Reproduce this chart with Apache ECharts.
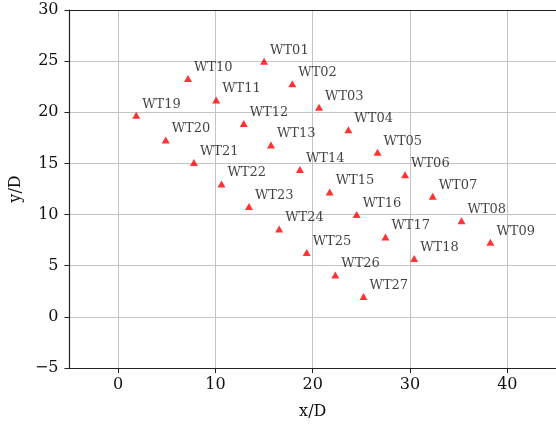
<!DOCTYPE html>
<html><head><meta charset="utf-8">
<script src="https://cdn.jsdelivr.net/npm/echarts@6/dist/echarts.min.js"></script>
<style>html,body{margin:0;padding:0;background:#fff}#c{width:556px;height:425px}</style>
</head><body><div id="c"></div>
<script>
const turbineNames = ['WT01','WT02','WT03','WT04','WT05','WT06','WT07','WT08','WT09',
  'WT10','WT11','WT12','WT13','WT14','WT15','WT16','WT17','WT18',
  'WT19','WT20','WT21','WT22','WT23','WT24','WT25','WT26','WT27'];
const xValues = [15.0,17.9,20.65,23.66,26.66,29.49,32.33,35.29,38.26,
  7.18,10.08,12.91,15.71,18.68,21.74,24.51,27.47,30.43,
  1.86,4.89,7.79,10.62,13.45,16.55,19.38,22.32,25.22];
const yValues = [25.0,22.8,20.5,18.3,16.1,13.9,11.8,9.4,7.3,
  23.3,21.2,18.9,16.8,14.4,12.2,10.0,7.8,5.7,
  19.7,17.3,15.1,13.0,10.8,8.6,6.3,4.1,2.0];
const xTicks = [0,10,20,30,40];
const yTicks = [-5,0,5,10,15,20,25,30];

const FONT = 'DejaVu Serif';
const TXT = '#111';
const fmt = v => String(v).replace('-','\u2212');
const points = turbineNames.map((n,i)=>({name:n, value:[xValues[i], yValues[i]]}));
const chart = echarts.init(document.getElementById('c'), null, {renderer:'canvas'});
chart.setOption({
  animation:false,
  backgroundColor:'#fff',
  grid:{left:69, right:-7, top:10, bottom:54, containLabel:false},
  xAxis:[{
    type:'value', min:-5, max:45, position:'bottom',
    name:'x/D', nameLocation:'middle', nameGap:36,
    nameTextStyle:{fontFamily:FONT, fontSize:16, color:TXT},
    axisLine:{show:true, onZero:false, lineStyle:{color:'#222', width:1.2}},
    axisTick:{show:true, customValues:xTicks, length:5, lineStyle:{color:'#222'}},
    axisLabel:{customValues:xTicks, fontFamily:FONT, fontSize:16, color:TXT, margin:9, formatter:fmt},
    splitLine:{show:true, lineStyle:{color:'#c4c4c4', width:1}}
  },{
    type:'value', min:-5, max:45, position:'top',
    axisLine:{show:true, onZero:false, lineStyle:{color:'#222', width:1.2}},
    axisTick:{show:false}, axisLabel:{show:false}, splitLine:{show:false}
  }],
  yAxis:{
    type:'value', min:-5, max:30, interval:5,
    name:'y/D', nameLocation:'middle', nameGap:41, nameRotate:90,
    nameTextStyle:{fontFamily:FONT, fontSize:16, color:TXT},
    axisLine:{show:true, onZero:false, lineStyle:{color:'#222', width:1.2}},
    axisTick:{show:true, length:5, lineStyle:{color:'#222'}},
    axisLabel:{fontFamily:FONT, fontSize:16, color:TXT, margin:11, formatter:fmt},
    splitLine:{show:true, lineStyle:{color:'#c4c4c4', width:1}}
  },
  series:[{
    type:'scatter', xAxisIndex:0, data:points,
    symbol:'triangle', symbolSize:[8,7],
    itemStyle:{color:'#ff0000'},
    label:{show:true, position:'right', distance:2, offset:[0,-11],
      formatter:p=>p.name, fontFamily:FONT, fontSize:13, color:TXT}
  }]
});
</script></body></html>
